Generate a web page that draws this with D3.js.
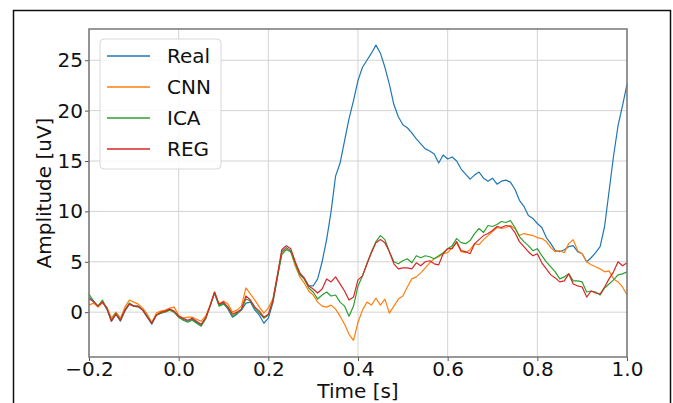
<!DOCTYPE html>
<html>
<head>
<meta charset="utf-8">
<script src="https://cdn.jsdelivr.net/npm/d3@7"></script>
<style>
  body { margin: 0; background: #fff; }
  text { font-family: "DejaVu Sans", sans-serif; }
</style>
</head>
<body>
<div id="chart"></div>
<script>
// sampling of the traces (seconds)
const tStart = -0.2;
const tStep = 0.01;

const seriesNames = ["Real", "CNN", "ICA", "REG"];
const seriesColors = ["#1f77b4", "#ff7f0e", "#2ca02c", "#d62728"];

const real = [
  1.5, 1.0, 0.6, 1.0, 0.3, -0.9, -0.2, -0.9, 0.1, 0.8,
  0.6, 0.6, 0.2, -0.5, -1.2, -0.3, -0.1, 0.1, 0.3, 0.0,
  -0.5, -0.7, -0.9, -0.7, -1.0, -1.3, -0.6, 0.6, 1.9, 0.7,
  0.9, 0.3, -0.5, -0.2, 0.2, 0.9, 1.0, 0.2, -0.3, -1.1,
  -0.6, 0.9, 3.4, 6.0, 6.4, 6.1, 4.9, 3.9, 3.3, 2.6,
  2.6, 3.3, 5.0, 7.2, 10.0, 13.5, 14.8, 17.0, 19.2, 21.0,
  23.0, 24.3, 25.0, 25.7, 26.5, 25.7, 24.3, 22.6, 20.6, 19.4,
  18.6, 18.3, 17.8, 17.2, 16.7, 16.2, 16.0, 15.7, 14.8, 15.6,
  15.2, 15.4, 15.0, 14.2, 13.7, 13.2, 13.6, 13.9, 13.3, 13.0,
  13.3, 12.7, 13.0, 13.1, 12.9, 12.2, 11.1, 10.5, 9.6, 9.3,
  8.8, 8.4, 7.4, 6.8, 6.1, 6.0, 6.2, 6.5, 6.6, 6.0,
  5.8, 5.0, 5.4, 5.9, 6.5, 8.5, 12.0, 15.5, 18.5, 20.5,
  22.6
];

const cnn = [
  0.7, 0.9, 0.5, 0.9, 0.5, -0.6, 0.0, -0.6, 0.5, 1.2,
  1.0, 0.8, 0.4, -0.2, -1.0, -0.1, 0.1, 0.2, 0.4, 0.5,
  -0.3, -0.6, -0.5, -0.5, -0.7, -0.9, -0.4, 0.7, 2.0, 0.8,
  1.1, 0.8, 0.0, 0.2, 0.6, 2.4, 1.8, 1.2, 0.5, -0.1,
  0.4, 1.3, 3.6, 5.8, 6.3, 6.0, 4.6, 3.5, 2.9, 2.1,
  1.7, 1.0, 0.6, 0.5, 0.7, 0.3, -0.4, -1.2, -2.2, -2.8,
  -1.0, 0.2, 1.0, 0.7, 1.4, 0.7, 1.3, -0.1, 0.6, 1.3,
  1.6, 2.5, 3.3, 3.5, 3.9, 4.4, 4.9, 5.3, 5.5, 5.8,
  5.9, 6.4, 6.9, 6.0, 5.9, 6.2, 6.8, 6.7, 7.2, 7.6,
  8.0, 8.4, 8.3, 8.4, 8.6, 8.3, 7.6, 7.8, 7.7, 7.6,
  7.4, 7.3, 7.0, 6.4, 6.0, 6.1, 5.9, 6.8, 7.2, 6.1,
  5.8, 5.0, 4.7, 4.5, 4.3, 4.0, 4.1, 3.3, 3.0, 2.5,
  1.7
];

const ica = [
  1.8, 1.1, 0.6, 1.2, 0.3, -0.8, -0.1, -0.8, 0.2, 0.9,
  0.6, 0.5, 0.2, -0.4, -1.1, -0.3, -0.1, 0.0, 0.2, 0.0,
  -0.5, -0.8, -1.0, -0.8, -1.1, -1.4, -0.7, 0.6, 1.9, 0.6,
  0.8, 0.4, -0.4, -0.1, 0.3, 1.3, 1.1, 0.4, -0.1, -0.6,
  -0.3, 1.1, 3.4, 5.7, 6.2, 6.0, 4.8, 3.7, 3.3, 2.4,
  2.0, 1.3, 1.7, 2.0, 1.6, 1.7, 1.0, 0.6, -0.4, 0.6,
  2.6, 3.6, 4.8, 6.0, 7.0, 7.6, 7.2, 6.0, 5.0, 4.8,
  5.1, 5.3, 4.9, 5.6, 5.4, 5.6, 5.5, 5.3, 5.6, 5.9,
  6.3, 6.6, 7.3, 6.9, 6.8, 7.1, 7.8, 8.3, 7.9, 8.6,
  8.5, 8.7, 9.0, 8.9, 9.1, 8.4, 7.5, 7.0, 6.6, 6.1,
  6.3, 5.6, 5.0, 4.5, 4.0, 3.3, 3.5, 3.8, 3.1, 3.1,
  3.0, 2.0, 2.1, 2.0, 1.7, 2.4, 2.8, 3.2, 3.7, 3.8,
  4.0
];

const reg = [
  1.3, 1.1, 0.6, 1.0, 0.4, -0.9, -0.2, -0.8, 0.2, 0.8,
  0.6, 0.6, 0.2, -0.5, -1.1, -0.3, 0.0, 0.1, 0.3, 0.1,
  -0.4, -0.6, -0.8, -0.6, -0.9, -1.2, -0.6, 0.6, 2.0, 0.8,
  1.0, 0.5, -0.2, 0.0, 0.3, 1.6, 1.2, 0.5, 0.1, -0.5,
  -0.2, 1.1, 3.6, 6.2, 6.6, 6.3, 5.0, 3.9, 3.4, 2.6,
  2.3, 1.9, 2.3, 3.3, 3.0, 3.5, 2.8, 2.1, 1.2, 1.5,
  3.2, 3.6, 4.8, 5.9, 6.9, 7.2, 6.9, 6.0, 4.8, 4.3,
  4.4, 4.4, 4.3, 4.9, 4.6, 5.0, 5.1, 4.8, 4.7, 5.8,
  6.3, 6.3, 7.0, 6.1, 6.0, 5.8, 6.8, 7.2, 7.6, 7.8,
  8.1, 8.5, 8.4, 8.6, 8.5, 7.9, 7.0, 6.5, 6.0, 5.6,
  5.8, 4.9, 4.3, 3.7, 3.4, 3.0, 3.1, 3.8, 2.8, 2.6,
  2.5, 1.5, 2.1, 1.9, 1.8, 2.5, 3.3, 4.0, 5.0, 4.6,
  4.9
];

const xTicks = [-0.2, 0.0, 0.2, 0.4, 0.6, 0.8, 1.0];
const yTicks = [0, 5, 10, 15, 20, 25];

const width = 673, height = 403;
const margin = { top: 29, right: 46, bottom: 46, left: 89 };
const fontSize = 20;

const svg = d3.select("#chart")
  .append("svg")
  .attr("width", width)
  .attr("height", height);

// figure frame
svg.append("rect")
  .attr("x", 13.5).attr("y", 10.5)
  .attr("width", 657).attr("height", 420)
  .attr("fill", "none")
  .attr("stroke", "#111")
  .attr("stroke-width", 1.5);

const x = d3.scaleLinear()
  .domain([-0.2, 1.0])
  .range([margin.left, width - margin.right]);

const y = d3.scaleLinear()
  .domain([-4.45, 28.1])
  .range([height - margin.bottom, margin.top]);

const fmtX = (d) => d3.format(".1f")(d).replace("-", "\u2212");

// grid
const grid = svg.append("g");
grid.selectAll("line.gx").data(xTicks).join("line")
  .attr("class", "gx")
  .attr("x1", (d) => x(d)).attr("x2", (d) => x(d))
  .attr("y1", y.range()[0]).attr("y2", y.range()[1])
  .attr("stroke", "#d3d3d3").attr("stroke-width", 1);
grid.selectAll("line.gy").data(yTicks).join("line")
  .attr("class", "gy")
  .attr("x1", x.range()[0]).attr("x2", x.range()[1])
  .attr("y1", (d) => y(d)).attr("y2", (d) => y(d))
  .attr("stroke", "#d3d3d3").attr("stroke-width", 1);

// traces
const allSeries = [real, cnn, ica, reg];
const line = d3.line()
  .x((d, i) => x(tStart + i * tStep))
  .y((d) => y(d));

const plotG = svg.append("g");
plotG.selectAll("path.trace").data(allSeries).join("path")
  .attr("class", "trace")
  .attr("d", (d) => line(d))
  .attr("fill", "none")
  .attr("stroke", (d, i) => seriesColors[i])
  .attr("stroke-width", 1.2)
  .attr("stroke-linejoin", "round");

// axes
const xAxis = svg.append("g")
  .attr("transform", `translate(0, ${y.range()[0]})`)
  .call(d3.axisBottom(x).tickValues(xTicks).tickFormat(fmtX).tickSizeOuter(0).tickSize(4).tickPadding(1));
const yAxis = svg.append("g")
  .attr("transform", `translate(${x.range()[0]}, 0)`)
  .call(d3.axisLeft(y).tickValues(yTicks).tickSizeOuter(0).tickSize(4).tickPadding(2));

[xAxis, yAxis].forEach((a) => {
  a.select(".domain").remove();
  a.selectAll(".tick line").attr("stroke", "#555").attr("stroke-width", 1);
  a.selectAll(".tick text")
    .attr("fill", "#111")
    .style("font-size", fontSize + "px")
    .style("font-family", "DejaVu Sans");
});

// spines
svg.append("rect")
  .attr("x", x.range()[0]).attr("y", y.range()[1])
  .attr("width", x.range()[1] - x.range()[0])
  .attr("height", y.range()[0] - y.range()[1])
  .attr("fill", "none")
  .attr("stroke", "#777")
  .attr("stroke-width", 1.5);

// axis labels
svg.append("text")
  .attr("x", (x.range()[0] + x.range()[1]) / 2)
  .attr("y", 398)
  .attr("text-anchor", "middle")
  .style("font-size", fontSize + "px")
  .attr("fill", "#111")
  .text("Time [s]");

svg.append("text")
  .attr("transform", `translate(51, ${(y.range()[0] + y.range()[1]) / 2}) rotate(-90)`)
  .attr("text-anchor", "middle")
  .style("font-size", fontSize + "px")
  .attr("fill", "#111")
  .text("Amplitude [uV]");

// legend
const legend = svg.append("g").attr("transform", "translate(100, 39)");
legend.append("rect")
  .attr("width", 121).attr("height", 130)
  .attr("rx", 4).attr("ry", 4)
  .attr("fill", "rgba(255,255,255,0.85)")
  .attr("stroke", "#d8d8d8")
  .attr("stroke-width", 1);

const rows = legend.selectAll("g.row").data(seriesNames).join("g")
  .attr("class", "row")
  .attr("transform", (d, i) => `translate(0, ${17 + i * 31})`);
rows.append("line")
  .attr("x1", 7).attr("x2", 50)
  .attr("stroke", (d, i) => seriesColors[i])
  .attr("stroke-width", 1.3);
rows.append("text")
  .attr("x", 67).attr("dy", "0.35em")
  .style("font-size", fontSize + "px")
  .attr("fill", "#111")
  .text((d) => d);
</script>
</body>
</html>
